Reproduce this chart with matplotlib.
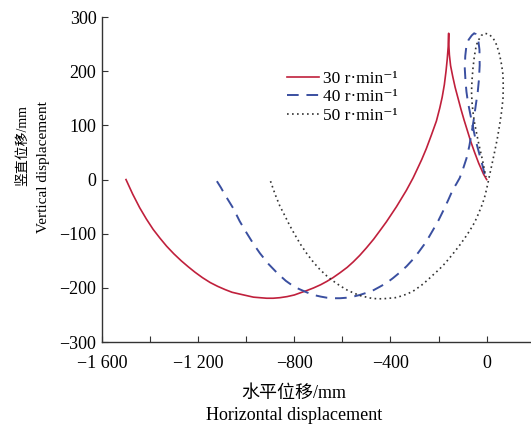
import matplotlib
matplotlib.use("Agg")
import matplotlib.pyplot as plt
from matplotlib.ticker import MultipleLocator

# points (mm)
x30 = [-1500, -1472, -1443, -1415, -1387, -1359, -1331, -1301, -1270, -1241, -1213,
       -1182, -1150, -1119, -1088, -1059, -1030, -1000, -970, -943, -915, -888, -860,
       -830, -800, -775, -749, -720, -690, -665, -639, -610, -580, -555, -528, -500,
       -470, -445, -417, -375, -334, -306, -290, -270, -251, -230, -209, -195, -185,
       -176, -169, -164, -160, -158,
       -157.5, -155, -150, -141, -131, -119, -107, -94, -80, -66, -50, -33, -13, 0]
y30 = [0, -27, -52, -73, -92, -108, -123, -137, -150, -161, -171,
       -181, -190, -197, -203, -208, -211, -214, -217, -218, -219, -219, -218,
       -216, -213, -209, -205, -200, -194, -188, -181, -172, -162, -152, -140, -126,
       -110, -95, -78, -50, -20, 3, 18, 37, 57, 82, 108, 132, 152,
       175, 200, 222, 245, 270,
       250, 230, 210, 190, 170, 150, 130, 110, 90, 70, 50, 30, 10, 0]

x40 = [-1122, -1105, -1090, -1072, -1054, -1027, -999, -971, -943, -907, -870, -835,
       -800, -775, -749, -720, -690, -665, -639, -610, -580, -555, -528, -500, -470,
       -445, -417, -390, -360, -333, -306, -283, -260, -240, -223, -200, -180, -160,
       -140, -126, -112, -98, -84, -72, -62, -54, -45, -37, -32, -29, -30, -36, -44,
       -52, -62, -75, -84, -89, -91, -88, -84, -78, -70, -60, -50, -40, -29, -18, -8, 0]
y40 = [-3, -15, -27, -40, -53, -77, -98, -118, -136, -156, -173, -187,
       -198, -203, -208, -213, -216, -218, -219, -219, -218, -216, -213, -209, -204,
       -198, -191, -182, -171, -160, -147, -134, -120, -106, -93, -75, -57, -38,
       -18, -8, 3, 20, 39, 62, 88, 110, 138, 162, 185, 211, 240, 261, 268,
       270, 266, 258, 248, 228, 205, 182, 162, 143, 125, 103, 82, 63, 45, 27, 9, 0]

x50 = [-899, -880, -860, -839, -820, -800, -775, -749, -725, -700, -670, -639, -610,
       -580, -555, -528, -500, -480, -455, -432, -405, -380, -355, -330, -306, -290,
       -271, -247, -223, -198, -174, -153, -133, -112, -91, -70, -50, -36, -22, -10,
       -1, 6, 13, 22, 33, 44, 54, 62, 68, 69, 68, 62, 54, 42, 27, 10, -8, -22, -33,
       -43, -51, -57, -61, -63, -61, -57, -51, -43, -33, -22, -14, -8, -2]
y50 = [-3, -27, -49, -67, -84, -100, -119, -136, -150, -163, -176, -187, -196,
       -204, -209, -214, -217, -219, -220, -220, -219, -218, -215, -211, -206, -201,
       -195, -186, -176, -166, -155, -144, -133, -121, -108, -94, -79, -65, -50, -35,
       -19, -5, 10, 28, 51, 75, 101, 125, 150, 172, 193, 212, 230, 248, 261, 268, 270,
       266, 258, 248, 228, 205, 183, 162, 143, 125, 106, 88, 66, 45, 29, 15, 5]

labels = ["30 r·min⁻¹", "40 r·min⁻¹", "50 r·min⁻¹"]
xtick_vals = [-1600, -1200, -800, -400, 0]
xtick_text = ["−1 600", "−1 200", "−800", "−400", "0"]
ytick_vals = [-300, -200, -100, 0, 100, 200, 300]

serif = ["Liberation Serif", "Noto Sans CJK SC", "DejaVu Sans"]
plt.rcParams["font.family"] = serif
plt.rcParams["axes.unicode_minus"] = True

fig = plt.figure(figsize=(5.31, 4.25), dpi=100)
ax = fig.add_axes([0.192, 0.195, 0.806, 0.765])

ax.plot(x30, y30, color="#c0203c", lw=1.2, label=labels[0])
ax.plot(x40, y40, color="#3a4fa0", lw=1.4, ls=(0, (6, 4)), label=labels[1])
ax.plot(x50, y50, color="#333333", lw=1.2, ls=(0, (1, 2)), label=labels[2])

ax.set_xlim(-1600, 180)
ax.set_ylim(-300, 300)
ax.set_xticks(xtick_vals)
ax.set_xticklabels(xtick_text)
ax.xaxis.set_minor_locator(MultipleLocator(200))
ax.set_yticks(ytick_vals)
ax.set_yticklabels([str(v).replace("-", "−") for v in ytick_vals])
ax.tick_params(which="both", direction="in", length=4, width=0.8, labelsize=13, color="#333333")
ax.tick_params(axis="x", pad=9)
ax.tick_params(axis="y", pad=4)
for s in ["top", "right"]:
    ax.spines[s].set_visible(False)
for s in ["left", "bottom"]:
    ax.spines[s].set_linewidth(1.0)
    ax.spines[s].set_color("#333333")

leg = ax.legend(loc="upper left", bbox_to_anchor=(0.415, 0.855), frameon=False,
                fontsize=12.5, handlelength=1.9, handletextpad=0.2, labelspacing=0.12,
                borderaxespad=0)

# axis titles (Chinese + English lines)
fig.text(294 / 531, 1 - 393 / 425, "水平位移/mm", ha="center", va="center", fontsize=13, family=serif)
fig.text(294 / 531, 1 - 415 / 425, "Horizontal displacement", ha="center", va="center", fontsize=13, family=serif)
fig.text(23 / 531, 1 - 146 / 425, "竖直位移/mm", ha="center", va="center", rotation=90, fontsize=10, family=serif)
fig.text(44 / 531, 1 - 167 / 425, "Vertical displacement", ha="center", va="center", rotation=90, fontsize=11, family=serif)

fig.savefig("out.png", dpi=100)
